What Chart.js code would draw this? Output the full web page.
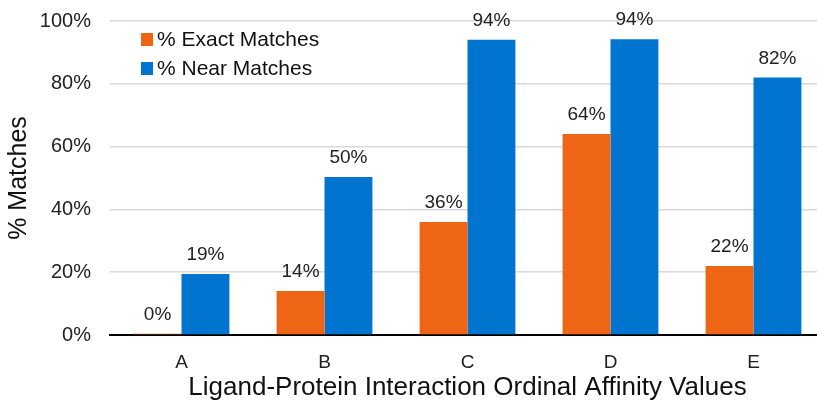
<!DOCTYPE html>
<html>
<head>
<meta charset="utf-8">
<script src="https://cdn.jsdelivr.net/npm/chart.js@4"></script>
<style>
  html, body { margin: 0; padding: 0; background: #fff; overflow: hidden; }
  #wrap { width: 826px; height: 403px; }
</style>
</head>
<body>
<div id="wrap"><canvas id="chart-container" width="826" height="403"></canvas></div>
<script>
// categories and values
const categories = ['A', 'B', 'C', 'D', 'E'];
const exact_matches = [0.4, 14, 36, 64, 22];
const near_matches = [19.4, 50.3, 94, 94.2, 82];
const y_ticks = [0, 20, 40, 60, 80, 100];

const font_family = '"Liberation Sans", Arial, sans-serif';

// value labels above each bar
const bar_labels = {
    id: 'bar_labels',
    afterDatasetsDraw(chart) {
        const ctx = chart.ctx;
        ctx.save();
        ctx.font = '19px ' + font_family;
        ctx.fillStyle = '#222';
        ctx.textAlign = 'center';
        ctx.textBaseline = 'middle';
        chart.data.datasets.forEach((ds, i) => {
            chart.getDatasetMeta(i).data.forEach((bar, j) => {
                ctx.fillText(Math.round(ds.data[j]) + '%', bar.x, bar.y - 19);
            });
        });
        ctx.restore();
    }
};

// legend drawn inside the plot area, top-left
const inner_legend = {
    id: 'inner_legend',
    afterDraw(chart) {
        const ctx = chart.ctx;
        ctx.save();
        ctx.font = '21px ' + font_family;
        ctx.textBaseline = 'middle';
        chart.data.datasets.forEach((ds, i) => {
            let y = 39 + i * 29;
            ctx.fillStyle = ds.backgroundColor;
            ctx.fillRect(141, y - 6, 12, 13);
            ctx.fillStyle = '#111';
            ctx.fillText(ds.label, 157, y + 1);
        });
        ctx.restore();
    }
};

const canv = document.querySelector('#chart-container');
new Chart(canv, {
    type: 'bar',
    data: {
        labels: categories,
        datasets: [
            {
                label: '% Exact Matches',
                data: exact_matches,
                backgroundColor: '#EE6516'
            },
            {
                label: '% Near Matches',
                data: near_matches,
                backgroundColor: '#0074CE'
            }
        ]
    },
    options: {
        responsive: false,
        animation: false,
        layout: { padding: { top: 21, right: 1, left: 0, bottom: 0 } },
        datasets: { bar: { categoryPercentage: 0.67, barPercentage: 1.0 } },
        plugins: {
            legend: { display: false },
            tooltip: { enabled: false }
        },
        scales: {
            x: {
                afterFit: (scale) => { scale.height = 68; },
                grid: { display: false, drawTicks: false },
                border: { color: '#000', width: 2 },
                ticks: {
                    color: '#222',
                    padding: 16,
                    font: { family: font_family, size: 19 }
                },
                title: {
                    display: true,
                    text: 'Ligand-Protein Interaction Ordinal Affinity Values',
                    color: '#111',
                    padding: { top: 0, bottom: 0 },
                    font: { family: font_family, size: 26 }
                }
            },
            y: {
                min: 0,
                max: 100,
                afterFit: (scale) => {
                    scale.width = 110;
                    scale.paddingTop = 0;
                    scale.paddingBottom = 0;
                },
                afterBuildTicks: (scale) => { scale.ticks = y_ticks.map((v) => ({ value: v })); },
                grid: { color: '#d9d9d9', lineWidth: 1.5, drawTicks: false },
                border: { display: false },
                ticks: {
                    color: '#222',
                    padding: 19,
                    font: { family: font_family, size: 20 },
                    callback: (v) => v + '%'
                },
                title: {
                    display: true,
                    text: '% Matches',
                    color: '#111',
                    padding: { top: 4, bottom: 4 },
                    font: { family: font_family, size: 25 }
                }
            }
        }
    },
    plugins: [bar_labels, inner_legend]
});
</script>
</body>
</html>
